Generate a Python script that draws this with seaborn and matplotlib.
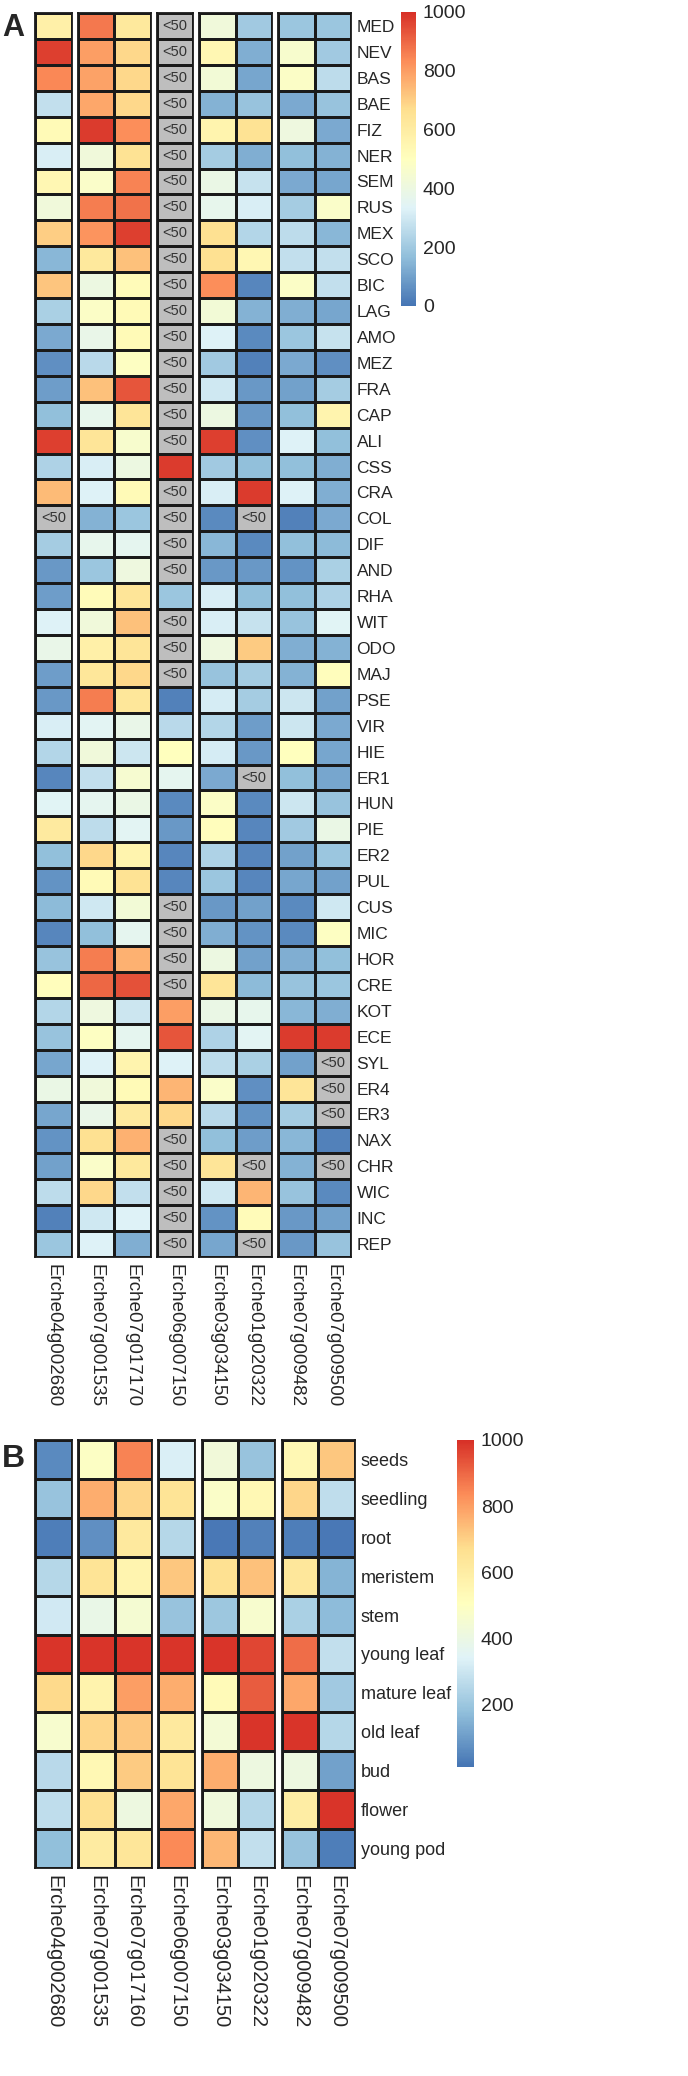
import numpy as np
import pandas as pd
import matplotlib
matplotlib.use("Agg")
import matplotlib.pyplot as plt
import seaborn as sns
from matplotlib.colors import LinearSegmentedColormap, ListedColormap

nan = np.nan

# ---- data ----
genes_a = ["Erche04g002680", "Erche07g001535", "Erche07g017170", "Erche06g007150",
           "Erche03g034150", "Erche01g020322", "Erche07g009482", "Erche07g009500"]
genes_b = ["Erche04g002680", "Erche07g001535", "Erche07g017160", "Erche06g007150",
           "Erche03g034150", "Erche01g020322", "Erche07g009482", "Erche07g009500"]

species_a = ["MED", "NEV", "BAS", "BAE", "FIZ", "NER", "SEM", "RUS", "MEX", "SCO", "BIC", "LAG",
             "AMO", "MEZ", "FRA", "CAP", "ALI", "CSS", "CRA", "COL", "DIF", "AND", "RHA", "WIT",
             "ODO", "MAJ", "PSE", "VIR", "HIE", "ER1", "HUN", "PIE", "ER2", "PUL", "CUS", "MIC",
             "HOR", "CRE", "KOT", "ECE", "SYL", "ER4", "ER3", "NAX", "CHR", "WIC", "INC", "REP"]

tissues_b = ["seeds", "seedling", "root", "meristem", "stem", "young leaf",
             "mature leaf", "old leaf", "bud", "flower", "young pod"]

# nan = "<50"
expr_a = [
    [580, 870, 620, nan, 420, 200, 190, 190],   # MED
    [970, 800, 680, nan, 540, 130, 460, 200],   # NEV
    [840, 790, 680, nan, 430, 110, 480, 260],   # BAS
    [270, 780, 680, nan, 140, 180, 120, 180],   # BAE
    [530, 980, 830, nan, 560, 650, 410, 120],   # FIZ
    [320, 420, 650, nan, 210, 130, 170, 140],   # NER
    [540, 470, 850, nan, 390, 280, 120, 110],   # SEM
    [420, 860, 880, nan, 370, 320, 210, 470],   # RUS
    [700, 820, 970, nan, 660, 240, 260, 150],   # MEX
    [150, 620, 730, nan, 660, 540, 270, 270],   # SCO
    [720, 400, 520, nan, 830, 40, 480, 270],    # BIC
    [220, 480, 530, nan, 430, 140, 130, 110],   # LAG
    [120, 380, 530, nan, 330, 50, 190, 280],    # AMO
    [60, 250, 490, nan, 200, 30, 120, 60],      # MEZ
    [90, 730, 930, nan, 300, 80, 100, 210],     # FRA
    [170, 370, 640, nan, 400, 80, 170, 560],    # CAP
    [970, 640, 460, nan, 970, 60, 330, 170],    # ALI
    [230, 320, 400, 980, 200, 170, 170, 130],   # CSS
    [740, 330, 530, nan, 320, 980, 330, 130],   # CRA
    [nan, 140, 190, nan, 50, nan, 30, 120],     # COL
    [210, 370, 360, nan, 150, 50, 170, 160],    # DIF
    [80, 190, 410, nan, 80, 80, 70, 220],       # AND
    [90, 520, 640, 190, 320, 170, 170, 230],    # RHA
    [330, 420, 730, nan, 320, 280, 180, 340],   # WIT
    [380, 580, 640, nan, 410, 710, 130, 140],   # ODO
    [90, 630, 680, nan, 180, 210, 140, 510],    # MAJ
    [80, 860, 630, 30, 310, 210, 290, 100],     # PSE
    [320, 350, 380, 250, 240, 90, 290, 120],    # VIR
    [240, 420, 290, 500, 310, 80, 500, 110],    # HIE
    [40, 270, 450, 360, 120, nan, 170, 110],    # ER1
    [340, 360, 390, 50, 480, 50, 290, 180],     # HUN
    [610, 260, 350, 80, 510, 40, 200, 390],     # PIE
    [170, 680, 560, 40, 230, 40, 100, 190],     # ER2
    [70, 530, 650, 40, 190, 40, 110, 100],      # PUL
    [160, 300, 430, nan, 80, 100, 50, 300],     # CUS
    [40, 170, 360, nan, 130, 70, 50, 490],      # MIC
    [180, 860, 760, nan, 400, 100, 130, 170],   # HOR
    [510, 900, 940, nan, 640, 160, 180, 190],   # CRE
    [240, 410, 290, 800, 390, 370, 150, 130],   # KOT
    [180, 490, 360, 930, 230, 350, 980, 980],   # ECE
    [110, 330, 560, 330, 260, 220, 100, nan],   # SYL
    [390, 420, 530, 750, 470, 60, 640, nan],    # ER4
    [110, 380, 610, 680, 250, 70, 210, nan],    # ER3
    [70, 660, 760, nan, 170, 90, 150, 30],      # NAX
    [100, 470, 620, nan, 640, nan, 140, nan],   # CHR
    [260, 680, 270, nan, 300, 750, 180, 50],    # WIC
    [30, 300, 330, nan, 70, 520, 80, 100],      # INC
    [190, 330, 130, nan, 110, nan, 80, 180],    # REP
]

expr_b = [
    [60, 490, 850, 330, 430, 190, 540, 720],    # seeds
    [190, 770, 690, 650, 480, 540, 690, 270],   # seedling
    [30, 70, 620, 250, 20, 40, 30, 20],         # root
    [250, 650, 560, 720, 660, 730, 630, 150],   # meristem
    [310, 390, 450, 190, 200, 460, 230, 170],   # stem
    [990, 990, 990, 990, 990, 960, 890, 280],   # young leaf
    [680, 570, 800, 770, 530, 920, 780, 210],   # mature leaf
    [460, 690, 720, 620, 440, 990, 990, 250],   # old leaf
    [260, 540, 710, 650, 770, 410, 410, 110],   # bud
    [270, 660, 410, 780, 420, 250, 600, 990],   # flower
    [180, 610, 640, 840, 750, 280, 190, 30],    # young pod
]

col_groups = [[0], [1, 2], [3], [4, 5], [6, 7]]
ticks_a = [0, 200, 400, 600, 800, 1000]
ticks_b = [200, 400, 600, 800, 1000]

# ---- style ----
sns.set_style("white")
plt.rcParams['font.family'] = ['Liberation Sans', 'DejaVu Sans']

cmap = LinearSegmentedColormap.from_list(
    "pheat", ["#4575B4", "#91BFDB", "#E0F3F8", "#FFFFBF", "#FEE090", "#FC8D59", "#D73027"])
gray = ListedColormap(["#BEBEBE"])

W, H = 688, 2076
fig = plt.figure(figsize=(W / 100, H / 100), dpi=100)


def box(x, y, w, h):
    # pixel box (from top-left) -> figure fraction
    return [x / W, 1 - (y + h) / H, w / W, h / H]


def draw_panel(values, rows, cols, top, bottom, x0, cw, gap, cbar_box, vmin, vmax, ticks,
               row_fs, col_fs):
    df = pd.DataFrame(values, index=rows, columns=cols)
    cax = fig.add_axes(box(*cbar_box))
    x = x0
    for g, idx in enumerate(col_groups):
        ax = fig.add_axes(box(x, top, cw * len(idx), bottom - top))
        sub = df.iloc[:, idx]
        low = sub.isna()
        sns.heatmap(sub, ax=ax, cmap=cmap, vmin=vmin, vmax=vmax, mask=low,
                    linewidths=1, linecolor="#1a1a1a",
                    cbar=(g == 0), cbar_ax=cax if g == 0 else None)
        if g == 0:
            cb = ax.collections[0].colorbar
        if low.values.any():
            sns.heatmap(pd.DataFrame(0, index=sub.index, columns=sub.columns), ax=ax,
                        cmap=gray, mask=~low, cbar=False,
                        linewidths=1, linecolor="#1a1a1a",
                        annot=np.full(sub.shape, "<50"), fmt="",
                        annot_kws={"fontsize": 10.5, "color": "#333333"})
        for s in ax.spines.values():
            s.set_visible(True)
            s.set_linewidth(1.3)
            s.set_color("#1a1a1a")
        ax.set_xticks(np.arange(len(idx)) + 0.5)
        ax.set_xticklabels(sub.columns, rotation=270, ha="center", va="top", fontsize=col_fs)
        ax.tick_params(axis="x", length=0, pad=5)
        ax.set_xlabel("")
        ax.set_ylabel("")
        if g == len(col_groups) - 1:
            ax.yaxis.tick_right()
            ax.set_yticks(np.arange(len(rows)) + 0.5)
            ax.set_yticklabels(rows, rotation=0, fontsize=row_fs)
            ax.tick_params(axis="y", length=0, pad=4)
        else:
            ax.set_yticks([])
        x += cw * len(idx) + gap
    cb.set_ticks(ticks)
    cb.outline.set_visible(False)
    cax.tick_params(length=0, labelsize=14, pad=5)


# Panel A
draw_panel(expr_a, species_a, genes_a, top=13, bottom=1257, x0=35, cw=36.5, gap=6,
           cbar_box=(401, 12, 15, 294), vmin=0, vmax=1000, ticks=ticks_a,
           row_fs=12.5, col_fs=13.5)
# Panel B
draw_panel(expr_b, tissues_b, genes_b, top=1440, bottom=1868, x0=35, cw=36.75, gap=6.5,
           cbar_box=(457, 1440, 17, 327), vmin=10, vmax=1000, ticks=ticks_b,
           row_fs=13, col_fs=14.5)

fig.text(2 / W, 1 - 36 / H, "A", fontsize=22, fontweight="bold", ha="left", va="baseline")
fig.text(2 / W, 1 - 1467 / H, "B", fontsize=23, fontweight="bold", ha="left", va="baseline")

fig.savefig("out.png", dpi=100)
